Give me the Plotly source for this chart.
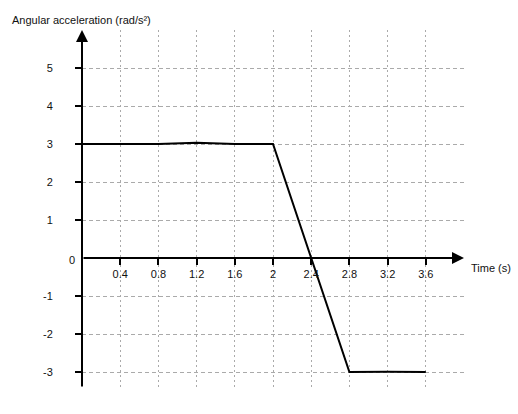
import plotly.graph_objects as go

# Data
time_s = [0, 0.8, 1.2, 1.6, 2.0, 2.8, 3.2, 3.6]
alpha = [3, 3, 3.03, 3, 3, -3, -2.99, -3]

x_ticks = [0.4, 0.8, 1.2, 1.6, 2.0, 2.4, 2.8, 3.2, 3.6]
x_tick_labels = ["0.4", "0.8", "1.2", "1.6", "2", "2.4", "2.8", "3.2", "3.6"]
y_ticks = [-3, -2, -1, 1, 2, 3, 4, 5]
y_tick_labels = ["-3", "-2", "-1", "1", "2", "3", "4", "5"]

X_MIN, X_MAX = 0, 4.0
Y_MIN, Y_MAX = -3.42, 6.0

FONT = "Liberation Sans, Arial, sans-serif"
TXT = "#111111"
GRID = "#aaaaaa"

fig = go.Figure()
fig.add_trace(go.Scatter(
    x=time_s, y=alpha, mode="lines",
    line=dict(color="black", width=2),
    showlegend=False, hoverinfo="skip",
))

fig.update_layout(
    width=518, height=414,
    margin=dict(l=82, r=54, t=30, b=26),
    paper_bgcolor="white", plot_bgcolor="white",
    font=dict(family=FONT, size=11, color=TXT),
    xaxis=dict(
        range=[X_MIN, X_MAX], anchor="free",
        position=(0 - Y_MIN) / (Y_MAX - Y_MIN),
        tickmode="array", tickvals=x_ticks, ticktext=x_tick_labels,
        tickfont=dict(family=FONT, size=11, color=TXT),
        ticks="outside", ticklen=6, tickwidth=2, tickcolor="black",
        showgrid=True, gridcolor=GRID, gridwidth=1, griddash="2px,3px",
        showline=False, zeroline=False, automargin=False,
    ),
    yaxis=dict(
        range=[Y_MIN, Y_MAX],
        tickmode="array", tickvals=y_ticks, ticktext=y_tick_labels,
        tickfont=dict(family=FONT, size=11, color=TXT),
        ticks="outside", ticklen=6, tickwidth=2, tickcolor="black",
        ticklabelstandoff=20,
        showgrid=True, gridcolor=GRID, gridwidth=1, griddash="4px,3px",
        showline=False, zeroline=False, automargin=False,
    ),
)

# Axis lines with arrow heads
fig.add_annotation(x=X_MAX, y=0, ax=X_MIN, ay=0, xref="x", yref="y",
                   axref="x", ayref="y", text="", showarrow=True,
                   arrowhead=2, arrowsize=1.2, arrowwidth=2, arrowcolor="black",
                   standoff=0, startstandoff=0)
fig.add_annotation(x=0, y=Y_MAX, ax=0, ay=Y_MIN, xref="x", yref="y",
                   axref="x", ayref="y", text="", showarrow=True,
                   arrowhead=2, arrowsize=1.2, arrowwidth=2, arrowcolor="black",
                   standoff=0, startstandoff=0)

# Origin label and axis titles
fig.add_annotation(x=0, y=0, xref="x", yref="y", text="0", showarrow=False,
                   xanchor="right", yanchor="middle", xshift=-5, yshift=-2,
                   font=dict(family=FONT, size=11, color=TXT))
fig.add_annotation(x=X_MAX, y=0, xref="x", yref="y", text="Time (s)",
                   showarrow=False, xanchor="left", yanchor="middle",
                   xshift=5, yshift=-10,
                   font=dict(family=FONT, size=11, color=TXT))
fig.add_annotation(x=0, y=1, xref="paper", yref="paper",
                   text="Angular acceleration (rad/s²)", showarrow=False,
                   xanchor="left", yanchor="bottom", xshift=-72, yshift=2,
                   font=dict(family=FONT, size=11, color=TXT))

fig.write_html("out.html", config={"displayModeBar": False},
               post_script="document.body.style.margin='0';")
